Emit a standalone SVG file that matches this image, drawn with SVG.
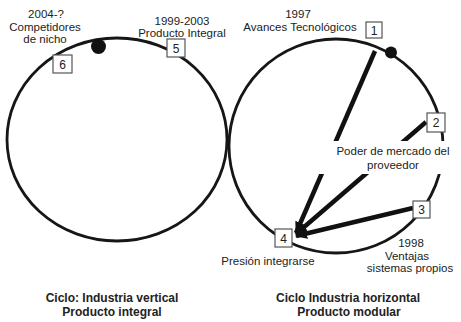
<svg xmlns="http://www.w3.org/2000/svg" width="461" height="322" viewBox="0 0 461 322">
<style>
  .cyc{fill:none;stroke:#161616;stroke-width:2.8}
  .box{fill:#fff;stroke:#555;stroke-width:1.2}
  .num{font-family:"Liberation Sans",Arial,sans-serif;font-size:12px;fill:#222;text-anchor:middle}
  .lbl{font-family:"Liberation Sans",Arial,sans-serif;font-size:11.5px;fill:#222;text-anchor:middle}
  .ttl{font-family:"Liberation Sans",Arial,sans-serif;font-size:12px;font-weight:bold;fill:#222;text-anchor:middle}
  .con{stroke:#111;stroke-width:4.5;fill:none;marker-end:url(#ah)}
  .dot{fill:#111}
</style>
<defs>
  <marker id="ah" markerUnits="userSpaceOnUse" markerWidth="12" markerHeight="11" viewBox="0 0 12 11" refX="11" refY="5.5" orient="auto">
    <path d="M0,0 L12,5.5 L0,11 z" fill="#111"/>
  </marker>
</defs>

<g id="cycles">
  <ellipse class="cyc" cx="117" cy="139.5" rx="110" ry="101.5"/>
  <circle class="cyc" cx="336" cy="146" r="107"/>
  <circle class="dot" cx="98.5" cy="46.5" r="7.5"/>
  <circle class="dot" cx="391" cy="52.5" r="6"/>
</g>

<g id="connectors">
  <line class="con" x1="375" y1="51" x2="296" y2="233"/>
  <line class="con" x1="426" y1="122" x2="296" y2="234"/>
  <line class="con" x1="413" y1="208" x2="296" y2="236"/>
</g>

<g id="label-poder">
  <rect x="308" y="141" width="142" height="33" fill="#fff"/>
  <text class="lbl" x="393" y="155">Poder de mercado del</text>
  <text class="lbl" x="393" y="169">proveedor</text>
</g>

<g id="n1">
  <rect class="box" x="366" y="22" width="16" height="16"/>
  <text class="num" x="374" y="34.5">1</text>
  <text class="lbl" x="298" y="18">1997</text>
  <text class="lbl" x="300" y="31">Avances Tecnológicos</text>
</g>
<g id="n2">
  <rect class="box" x="427" y="113" width="18" height="19"/>
  <text class="num" x="436" y="127">2</text>
</g>
<g id="n3">
  <rect class="box" x="413" y="201" width="17" height="17"/>
  <text class="num" x="421.5" y="214">3</text>
  <text class="lbl" x="411" y="247">1998</text>
  <text class="lbl" x="407" y="260">Ventajas</text>
  <text class="lbl" x="410" y="272">sistemas propios</text>
</g>
<g id="n4">
  <rect class="box" x="275" y="229" width="17" height="18"/>
  <text class="num" x="283.5" y="242.5">4</text>
  <text class="lbl" x="268" y="265">Presión integrarse</text>
</g>
<g id="n5">
  <rect class="box" x="167" y="39" width="18" height="18"/>
  <text class="num" x="176" y="52.5">5</text>
  <text class="lbl" x="182" y="25">1999-2003</text>
  <text class="lbl" x="182" y="37">Producto Integral</text>
</g>
<g id="n6">
  <rect class="box" x="53" y="55" width="19" height="18"/>
  <text class="num" x="62.5" y="68.5">6</text>
  <text class="lbl" x="46" y="18">2004-?</text>
  <text class="lbl" x="45" y="31">Competidores</text>
  <text class="lbl" x="45" y="43">de nicho</text>
</g>

<g id="titles">
  <text class="ttl" x="112" y="302">Ciclo: Industria vertical</text>
  <text class="ttl" x="112" y="316">Producto integral</text>
  <text class="ttl" x="348" y="302">Ciclo Industria horizontal</text>
  <text class="ttl" x="349" y="316">Producto modular</text>
</g>
</svg>
